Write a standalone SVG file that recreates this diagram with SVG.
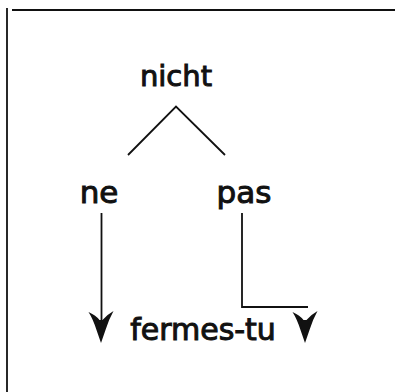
<svg xmlns="http://www.w3.org/2000/svg" width="397" height="392" viewBox="0 0 397 392">
<style>
.t{font-family:"DejaVu Sans","Liberation Sans",sans-serif;fill:#111;stroke:#111;stroke-width:1;text-anchor:middle}
.ln{stroke:#111;stroke-width:1.8;fill:none}
.ah{fill:#111;stroke:none}
</style>
<defs>
<path id="arrowhead" d="M0,0 L-4.5,-13 Q-8,-24 -12.5,-31 Q-5.5,-28 -1.5,-23 L1.5,-23 Q5.5,-28 12.5,-32 Q8,-24 4.5,-13 Z"/>
</defs>
<rect width="397" height="392" fill="#fff"/>
<g id="frame">
<line class="ln" x1="12" y1="10" x2="395" y2="10" stroke-width="2.2"/>
<line class="ln" x1="7" y1="8" x2="7" y2="392" stroke-width="2"/>
</g>
<g id="nicht"><text class="t" x="176" y="86" font-size="29">nicht</text></g>
<g id="ne"><text class="t" x="99" y="203" font-size="31">ne</text></g>
<g id="pas"><text class="t" x="244" y="203" font-size="31">pas</text></g>
<g id="fermes-tu"><text class="t" x="203" y="340" font-size="30">fermes-tu</text></g>
<g id="connectors">
<polyline class="ln" points="128,155 176,106.5 225,155"/>
<line class="ln" x1="101.5" y1="213" x2="101.5" y2="322"/>
<use href="#arrowhead" class="ah" transform="translate(101,343)"/>
<polyline class="ln" points="242,213 242,307 308,307"/>
<use href="#arrowhead" class="ah" transform="translate(305,343)"/>
</g>
</svg>
